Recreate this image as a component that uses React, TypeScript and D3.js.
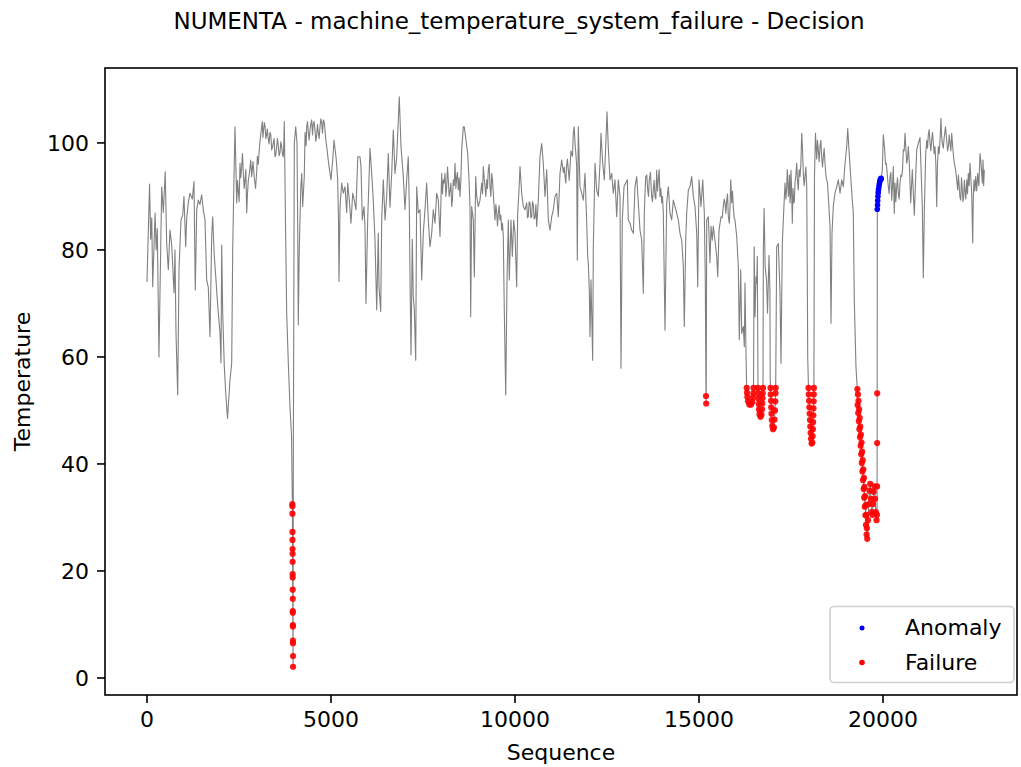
import React from "react";
import * as d3 from "d3";

const W = 1021;
const H = 767;

const temperatureSeries: [number, number][] = [
  [0,74.0],[70,92.3],[100,82],[130,86],[155,73.1],[220,86.9],[250,80],[280,84],[325,60.0],[400,91.8],[443,87],[495,94.6],[535,81.3],[579,76.3],[625,83.7],[671,81],[734,72.0],[761,80],[788,64.5],[834,52.9],[870,76.3],[924,85.6],[970,86.5],[1005,90.0],[1052,80.6],[1079,86],[1122,88.8],[1168,90.6],[1231,89.5],[1277,92.8],[1312,72.5],[1351,87.5],[1394,89.3],[1440,88.5],[1486,90.3],[1530,87.5],[1576,85.6],[1622,74.4],[1666,73],[1712,63.8],[1758,82.5],[1785,86.2],[1829,78.8],[1875,74.4],[1902,71.5],[1938,68.2],[1984,64.5],[2011,58.9],[2030,80.9],[2057,68.2],[2101,58.2],[2139,53.3],[2188,48.5],[2255,55.7],[2302,58.9],[2329,80],[2356,90.6],[2391,103],[2438,88.8],[2481,91],[2527,96.2],[2573,95.6],[2617,94.5],[2663,93],[2709,86.9],[2753,93],[2818,96.8],[2845,93.7],[2916,93.5],[2981,94.6],[3024,96],[3060,99.5],[3098,102],[3133,104],[3170,102.5],[3207,103.2],[3250,101.5],[3288,101.2],[3342,102],[3388,98.7],[3432,100],[3478,97.4],[3520,99],[3568,99.5],[3614,98.2],[3660,99.3],[3704,97.4],[3731,104],[3764,85],[3796,68.2],[3840,58.9],[3886,50.5],[3927,45.5],
  [3976,40],[4003,99.9],[4041,103],[4076,100],[4095,85],[4111,66],[4138,80],[4177,91.2],[4204,94.3],[4231,88.1],[4274,93.7],[4312,100.5],[4340,103],[4383,102],[4429,102.4],[4476,104.3],[4519,103.5],[4565,102.4],[4611,101.5],[4655,101.8],[4701,103],[4747,103.7],[4791,104.3],[4837,102.4],[4883,99.3],[4946,95.6],[5000,93.1],[5046,96.8],[5082,100.5],[5136,97.4],[5182,93.1],[5204,85.6],[5217,74.1],[5245,88],[5291,92.5],[5334,90.6],[5380,91.8],[5427,87],[5454,92.5],[5497,89.3],[5543,85],[5590,90.6],[5633,89.3],[5679,87.5],[5727,97.4],[5788,97.4],[5815,95.6],[5851,85.6],[5897,88.1],[5924,84.4],[5951,70],[5997,85.6],[6060,99],[6106,94.3],[6149,89.3],[6196,81.8],[6242,68.8],[6285,83.1],[6305,73],[6351,68.5],[6378,85.6],[6422,93.1],[6468,85.6],[6514,90],[6557,98],[6603,88],[6650,94.3],[6693,102.4],[6739,94.3],[6786,97.4],[6856,108.6],[6902,99.3],[6965,93.7],[7011,87.5],[7057,93.1],[7100,97.4],[7128,88.1],[7147,75],[7174,60.4],[7209,82],[7236,71.3],[7264,68.8],[7302,59.4],[7329,91.8],[7372,86.9],[7419,87.5],[7465,74.4],[7508,83.1],[7554,87.5],[7600,92.5],[7644,85.6],[7690,80.6],[7736,83.1],[7780,87.5],[7826,85],[7872,90.6],[7916,89.3],[7962,82.5],[8008,94.3],[8052,93.1],[8098,94.3],[8144,91.8],[8188,93.1],[8234,91],[8280,88.1],[8323,93.1],[8370,96.2],[8416,93.7],[8459,91.2],[8506,90],[8552,98.7],[8595,103],[8622,103],[8668,100.5],[8715,98],[8750,93.1],[8777,88.1],[8796,67.5],[8823,88.1],[8867,85.6],[8895,75],[8932,93.7],[8959,90],[9003,88.1],[9049,89.3],[9095,92.5],[9139,95.6],[9185,91.8],[9231,93.1],[9274,94.9],[9321,91.8],[9367,94.3],[9410,90.6],[9457,85.6],[9503,86.9],[9546,86.9],[9592,85.6],[9639,83.7],[9682,82.5],[9709,68.8],[9748,52.9],[9783,74.4],[9818,85.6],[9845,74.4],[9891,85.6],[9927,78.8],[9965,85.6],[10000,83.1],[10046,73.1],[10073,86.9],[10109,91.2],[10136,95.6],[10182,90.6],[10226,88.1],[10272,87.5],[10318,88.8],[10340,86],[10361,86.2],[10385,89],[10408,88.8],[10430,86],[10454,86.2],[10475,89],[10497,88.5],[10520,85.8],[10544,86],[10568,88.5],[10590,84.4],[10633,89.3],[10679,97.4],[10725,99.9],[10769,96.2],[10815,90],[10862,95],[10905,85.6],[10951,83.7],[10997,86.2],[11041,87.5],[11087,90],[11134,90.6],[11177,86.2],[11223,94.3],[11269,96.8],[11313,94.5],[11359,93.7],[11400,95.5],[11448,95],[11500,96],[11541,98],[11584,101.8],[11631,100],[11677,95.6],[11693,78.1],[11720,103],[11766,91.8],[11812,90.6],[11856,89.3],[11902,94.3],[11949,85],[11976,78.8],[11992,77.5],[12019,72.5],[12038,63.8],[12065,74.4],[12111,59.4],[12128,80.6],[12174,96.2],[12220,91.2],[12264,90],[12310,96.2],[12337,101.8],[12383,96.2],[12427,93.1],[12465,99.3],[12500,105.8],[12535,99.3],[12582,93.1],[12628,94.3],[12671,90.6],[12717,93.1],[12764,86.2],[12807,93.1],[12853,90],[12880,57.9],[12916,85.6],[12962,91.8],[13008,92.5],[13052,93.1],[13079,85.6],[13125,85],[13171,83.7],[13215,83.1],[13261,91.8],[13307,93.7],[13351,88.8],[13397,83.7],[13443,81.8],[13487,71.9],[13514,86.9],[13552,93.7],[13606,91.2],[13649,93.1],[13714,90],[13758,91.2],[13804,90],[13850,94.9],[13894,93.1],[13940,90],[13986,88.8],[14030,86.9],[14076,65],[14122,88.8],[14166,91.8],[14212,86.9],[14258,85.6],[14302,89.3],[14348,88.1],[14394,86.9],[14438,85.6],[14484,83.1],[14530,81.8],[14574,76.9],[14601,65.7],[14639,81.8],[14666,86.9],[14710,91.2],[14755,91.8],[14802,93.7],[14845,90],[14891,88.1],[14938,83.1],[14965,73.1],[15000,93.1],[15054,88.1],[15101,93.1],[15144,86.9],[15171,74.4],
  [15209,85.6],[15253,86.2],[15299,77.6],[15326,84.4],[15361,81.8],[15388,84.4],[15435,81.8],[15481,78.8],[15509,75],[15544,83.7],[15598,86.2],[15660,88.1],[15707,88.8],[15753,89.3],[15797,86.2],[15824,85],[15862,93.1],[15889,88.8],[15932,88.1],[15978,85.6],[16025,82.5],[16068,76.9],[16095,63.2],[16133,76.3],[16160,64.4],[16204,65.7],[16231,61.9],[16250,73.8],[16277,60.6],
  [16499,80.6],[16522,67.5],[16549,75],[16567,73.8],[16584,78.8],[16594,66],
  [16748,80],[16770,87.8],[16797,76.9],[16835,74.4],[16862,68.2],[16902,79],[16927,72.5],[16935,56],
  [17111,80.6],[17155,81.2],[17201,71.9],[17228,58.8],[17264,81.2],[17291,85.6],[17337,92.5],[17384,91.8],[17411,93.7],[17446,91.2],[17473,88.8],[17500,94.9],[17535,85],[17573,88.8],[17609,92.5],[17655,96.2],[17698,91.2],[17745,93.7],[17791,101.8],[17834,94.3],[17880,93.7],[17927,91.8],[17943,75],[17954,60],
  [18138,93.7],[18165,101.8],[18198,97],[18242,98.7],[18288,99.3],[18334,97.4],[18378,97.4],[18424,96.2],[18470,93.1],[18514,90],[18560,84.4],[18587,66.3],[18614,83.1],[18649,88.1],[18695,90.6],[18742,91.8],[18786,93.1],[18832,90.6],[18878,93.1],[18922,91.8],[18968,96.2],[19014,99.3],[19041,102.7],[19076,98.7],[19122,93.7],[19166,89.3],[19193,86.8],[19220,70.6],[19266,58],
  [19981,95],[20008,101.5],[20046,98.7],[20090,96.2],[20144,91.8],[20190,93.7],[20236,89.3],[20280,95.6],[20307,86.8],[20326,92.5],[20372,91.8],[20416,90.6],[20462,92.5],[20508,93.7],[20552,98.7],[20598,101.8],[20644,96.2],[20688,99.3],[20715,96.2],[20753,88.8],[20796,95],[20851,86.5],[20888,93.7],[20916,98.7],[20959,99.9],[21005,101],[21032,95.6],[21068,88.1],[21095,74.8],[21122,86.9],[21160,98],[21188,100.5],[21231,101.5],[21277,100],[21323,100.5],[21367,100],[21413,99.3],[21459,88.1],[21503,99.3],[21549,100.5],[21576,104.6],[21611,100],[21665,101.2],[21731,100.5],[21780,99.5],[21821,99.9],[21867,101.8],[21894,99.3],[21937,96.2],[21975,94.9],[22030,91.2],[22065,92.5],[22111,89.3],[22155,91.2],[22193,90],[22228,91.2],[22274,93.1],[22318,94.3],[22364,96.2],[22410,90.6],[22437,81.3],[22473,93.1],[22519,93.7],[22573,94.3],[22636,98],[22682,94.3],[22717,96.8],[22753,95]
];

// extra readings of the noisy band (merged by sequence)
const bandReadings: [number, number][] = [
  [2460,93],[2504,89],[2550,93.5],[2595,98],[2640,91.5],[2686,95],[2731,90.5],[2786,94.5],[2880,96.5],[2950,91.5],[3000,97.5],
  [3150,101],[3188,103.8],[3230,100.8],[3270,102.6],[3315,99.8],[3365,101.5],[3410,99.2],[3455,100.8],[3500,97.8],[3545,100.8],[3590,97.6],[3637,100.2],[3682,97.8],[3718,100],
  [4295,102],[4326,99.5],[4361,104],[4406,100.5],[4452,103.5],[4498,101.5],[4542,104],[4588,100.3],[4633,103.5],[4678,100.8],[4724,104.5],[4770,101.8],[4814,104],[4860,100.5],
  [8030,90.5],[8075,92.5],[8121,90],[8166,95.5],[8211,90],[8257,92.5],[8301,89.5],[8347,92],[8393,91.5],[8437,94.5],[8482,93.5],[8529,93],
  [9117,90.5],[9162,93.5],[9208,90],[9252,91.5],[9298,96],[9344,90],[9389,93],[9433,88],[9480,88.5],[9525,84.5],[9570,88.3],[9615,86.5],[9660,85],
  [11336,95.5],[11380,92.5],[11424,97],[11474,93],[11520,98.5],[11562,97.5],[11608,103],[11654,98],
  [13530,90],[13580,94],[13628,90],[13680,94.5],[13736,89],[13781,93],[13827,89.5],[13872,91],[13917,95],[13963,91.5],[14008,90],
  [15630,86],[15684,89.5],[15730,86.8],[15775,90.5],[15843,88],[15910,91],[15955,86],
  [17360,89.5],[17398,95],[17428,90],[17460,94],[17487,90],[17518,91],[17555,91.5],[17590,89],[17632,94],[17677,92.8],[17720,95],[17768,96],[17812,99],[17857,92],[17904,95.5],
  [18220,100.5],[18265,96.5],[18311,100.5],[18356,95.5],[18401,99],[18447,94],[18492,92.5],
  [20068,96],[20117,94],[20167,90.5],[20213,94.5],[20258,92],[20349,89],[20394,93.5],[20439,89.5],[20485,94],[20530,95],[20575,98.5],[20621,99],[20666,97],
  [21210,99],[21254,102.5],[21300,98.5],[21345,102],[21390,98],[21436,96],[21481,96],[21526,98],[21590,101.5],[21638,99],[21698,103],[21755,98.5],[21800,101.5],[21844,98.5],[21915,97.5],
  [22048,94],[22088,90],[22133,93.5],[22174,89],[22210,93],[22251,89.5],[22296,90.5],[22341,92],[22387,93.5],[22455,90],[22496,91],[22546,91],[22605,92],[22660,96.5],[22700,92.5],[22735,92]
];

const failurePoints: [number, number][] = [
  [3950,32.5],[3951,32.1],[3952,30.7],[3953,27.3],[3954,25.8],[3955,24.1],[3956,23.2],[3957,21.7],[3958,19.4],[3959,18.8],[3960,16.5],[3961,14.8],[3962,12.5],[3963,12.2],[3964,9.9],[3965,9.6],[3966,7.0],[3967,6.5],[3968,4.1],[3969,2.1],
  [15190,52.7],[15196,51.3],
  [16296,54.2],[16304,53.3],[16313,52.5],[16332,51.7],[16367,51.1],[16413,51.1],[16448,51.6],[16467,52.4],[16476,53.2],[16481,54.2],
  [16603,54.2],[16611,53.2],[16617,52.2],[16622,51.2],[16630,50.2],[16644,49.3],[16671,48.8],[16698,49.2],[16712,50.2],[16720,51.3],[16725,52.3],[16731,53.2],[16739,54.2],
  [16943,54.2],[16949,53.0],[16957,51.8],[16962,50.6],[16970,49.4],[16978,48.2],[16992,47.1],[17011,46.5],[17038,46.8],[17052,48.3],[17065,50.0],[17073,51.7],[17079,53.2],[17084,54.2],
  [17975,54.2],[17983,53.0],[17991,51.8],[17999,50.6],[18008,49.4],[18016,48.2],[18024,47.0],[18032,45.8],[18043,44.7],[18060,43.8],[18079,44.0],[18087,45.2],[18095,46.5],[18100,47.8],[18106,49.1],[18111,50.4],[18116,51.7],[18119,53.0],[18122,54.2],
  [19302,54.0],[19310,51.0],[19318,53.0],[19326,49.5],[19334,51.8],[19343,48.0],[19351,50.2],[19359,46.5],[19367,48.6],[19375,45.0],[19383,47.0],[19391,43.4],[19399,45.5],[19408,41.8],[19416,44.0],[19424,40.2],[19432,42.3],[19440,38.6],[19448,40.7],[19457,37.0],[19465,39.0],[19473,35.3],[19481,37.4],[19489,33.7],[19497,35.7],[19505,32.0],[19514,34.0],[19522,30.4],[19530,32.3],[19538,28.6],[19546,30.5],[19554,26.8],[19562,28.0],[19571,26.0],
  [19592,29.5],[19614,32.5],[19633,35.0],[19652,36.3],[19671,33.5],[19690,31.0],[19709,30.5],[19728,32.5],[19747,34.8],[19766,35.8],[19785,33.5],[19805,31.0],[19824,29.5],[19837,30.5],[19839,35.8],[19841,43.9],[19842,53.2]
];

const anomalyPoints: [number, number][] = [
  [19845,87.6],[19851,88.4],[19856,89.2],[19862,90.0],[19870,90.7],[19878,91.3],[19889,91.8],[19900,92.3],[19910,92.7],[19921,93.0],[19932,93.2],[19943,93.4],[19954,93.3]
];

const xTicks = [0, 5000, 10000, 15000, 20000];
const yTicks = [0, 20, 40, 60, 80, 100];
const legendItems = [
  { label: "Anomaly", color: "blue" },
  { label: "Failure", color: "red" },
];

const FONT = "DejaVu Sans, Verdana, sans-serif";

export default function App() {
  const left = 105, right = 1017, top = 68, bottom = 695;
  const x = d3.scaleLinear().domain([-1141, 23641]).range([left, right]);
  const y = d3.scaleLinear().domain([-3.18, 114.0]).range([bottom, top]);
  const lineData = [...temperatureSeries, ...bandReadings, ...failurePoints, ...anomalyPoints].sort((a, b) => a[0] - b[0]);
  const path = d3.line<[number, number]>().x(d => x(d[0])).y(d => y(d[1]))(lineData) || "";

  return (
    <svg width={W} height={H} style={{ position: "absolute", left: 0, top: 0, background: "#fff" }} fontFamily={FONT}>
      <rect x={0} y={0} width={W} height={H} fill="#fff" />
      <text x={519} y={29} fontSize={23} textAnchor="middle" fill="#000">
        NUMENTA - machine_temperature_system_failure - Decision
      </text>
      <defs>
        <clipPath id="plotclip">
          <rect x={left} y={top} width={right - left} height={bottom - top} />
        </clipPath>
      </defs>
      <g clipPath="url(#plotclip)">
        <path d={path} fill="none" stroke="#808080" strokeWidth={1.1} strokeLinejoin="round" />
        {anomalyPoints.map((d, i) => (
          <circle key={"a" + i} cx={x(d[0])} cy={y(d[1])} r={2.8} fill="blue" />
        ))}
        {failurePoints.map((d, i) => (
          <circle key={"f" + i} cx={x(d[0])} cy={y(d[1])} r={3.1} fill="red" fillOpacity={0.9} />
        ))}
      </g>
      <rect x={left} y={top} width={right - left} height={bottom - top} fill="none" stroke="#000" strokeWidth={1.6} />
      {xTicks.map(t => (
        <g key={"xt" + t}>
          <line x1={x(t)} x2={x(t)} y1={bottom} y2={bottom + 8} stroke="#000" strokeWidth={1.6} />
          <text x={x(t)} y={727} fontSize={22} textAnchor="middle" fill="#000">{t}</text>
        </g>
      ))}
      {yTicks.map(t => (
        <g key={"yt" + t}>
          <line x1={left - 8} x2={left} y1={y(t)} y2={y(t)} stroke="#000" strokeWidth={1.6} />
          <text x={89} y={y(t) + 8} fontSize={22} textAnchor="end" fill="#000">{t}</text>
        </g>
      ))}
      <text x={(left + right) / 2} y={760} fontSize={22} textAnchor="middle" fill="#000">Sequence</text>
      <text transform={`translate(30, ${(top + bottom) / 2}) rotate(-90)`} fontSize={22} textAnchor="middle" fill="#000">Temperature</text>
      <g>
        <rect x={830} y={606.5} width={184} height={76} rx={4} fill="#fff" fillOpacity={0.8} stroke="#d0d0d0" strokeWidth={1.6} />
        {legendItems.map((it, i) => (
          <g key={it.label}>
            <circle cx={862} cy={628 + i * 34.5} r={it.color === "blue" ? 2.5 : 2.8} fill={it.color} />
            <text x={905} y={635 + i * 34.5} fontSize={22} fill="#000">{it.label}</text>
          </g>
        ))}
      </g>
    </svg>
  );
}
